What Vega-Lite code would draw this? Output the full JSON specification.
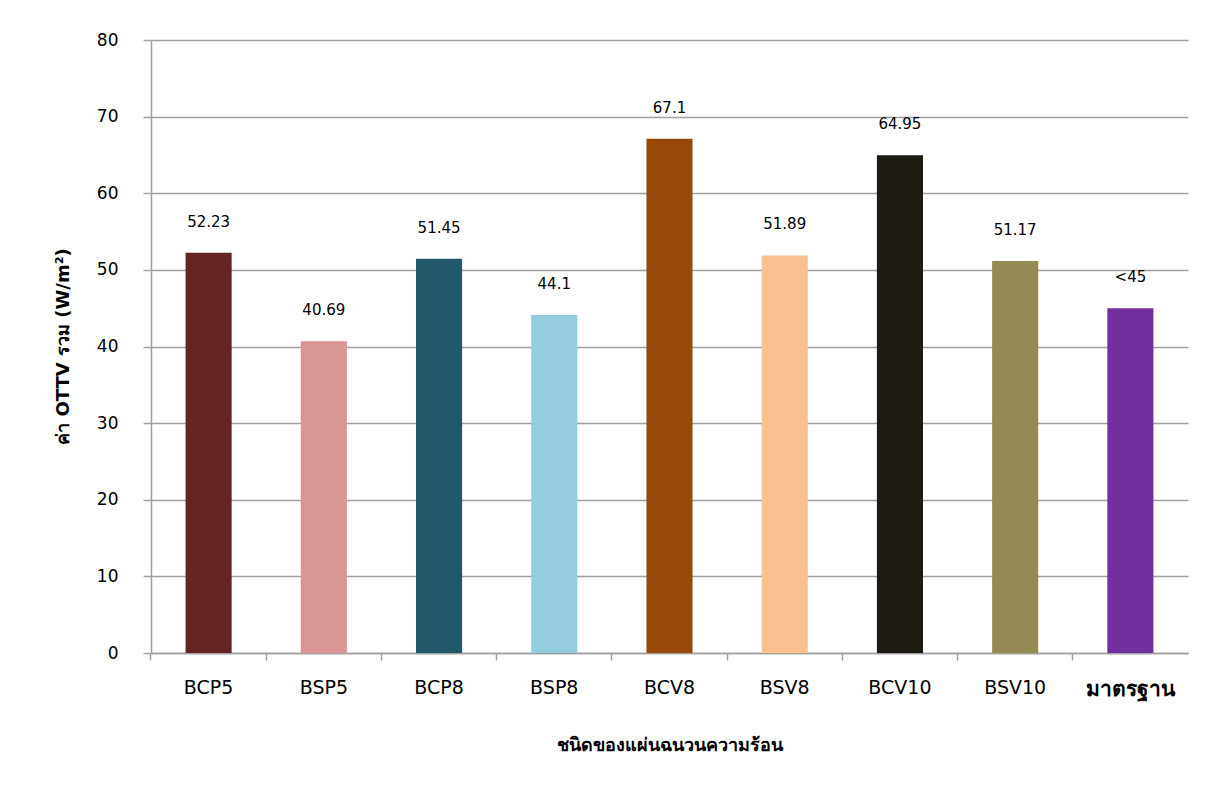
{
  "$schema": "https://vega.github.io/schema/vega-lite/v6.json",
  "autosize": "none",
  "width": 1037,
  "height": 613,
  "padding": {"left": 151, "top": 40, "right": 25, "bottom": 140},
  "background": "white",
  "data": {
    "values": [
      {"type": "BCP5", "ottv": 52.23, "label": "52.23"},
      {"type": "BSP5", "ottv": 40.69, "label": "40.69"},
      {"type": "BCP8", "ottv": 51.45, "label": "51.45"},
      {"type": "BSP8", "ottv": 44.1, "label": "44.1"},
      {"type": "BCV8", "ottv": 67.1, "label": "67.1"},
      {"type": "BSV8", "ottv": 51.89, "label": "51.89"},
      {"type": "BCV10", "ottv": 64.95, "label": "64.95"},
      {"type": "BSV10", "ottv": 51.17, "label": "51.17"},
      {"type": "มาตรฐาน", "ottv": 45, "label": "<45"}
    ]
  },
  "encoding": {
    "x": {
      "field": "type",
      "type": "nominal",
      "sort": null,
      "scale": {"paddingInner": 0.6, "paddingOuter": 0.3},
      "axis": {
        "title": "ชนิดของแผ่นฉนวนความร้อน",
        "labelAngle": 0,
        "bandPosition": -0.75,
        "tickSize": 7,
        "labelPadding": 18,
        "labelFontSize": {"expr": "datum.value == 'มาตรฐาน' ? 21 : 19"},
        "labelFontWeight": {"expr": "datum.value == 'มาตรฐาน' ? 'bold' : 'normal'"},
        "titleFontSize": 18,
        "titleFontWeight": "bold",
        "titleY": 92,
        "titleBaseline": "middle"
      }
    },
    "y": {
      "field": "ottv",
      "type": "quantitative",
      "scale": {"domain": [0, 80], "nice": false},
      "axis": {
        "title": "ค่า OTTV รวม (W/m²)",
        "values": [0, 10, 20, 30, 40, 50, 60, 70, 80],
        "tickSize": 8,
        "labelPadding": 25,
        "labelFontSize": 17,
        "titleFontSize": 18,
        "titleFontWeight": "bold",
        "titleX": -88,
        "titleY": 306,
        "titleBaseline": "middle",
        "grid": true
      }
    }
  },
  "layer": [
    {
      "mark": {"type": "bar"},
      "encoding": {
        "color": {
          "field": "type",
          "type": "nominal",
          "sort": null,
          "legend": null,
          "scale": {
            "domain": ["BCP5", "BSP5", "BCP8", "BSP8", "BCV8", "BSV8", "BCV10", "BSV10", "มาตรฐาน"],
            "range": ["#632523", "#D99694", "#215968", "#93CDDD", "#984807", "#FAC090", "#1D1B11", "#948A54", "#7030A0"]
          }
        }
      }
    },
    {
      "mark": {"type": "text", "dy": -31, "baseline": "middle", "fontSize": 15, "color": "#000000"},
      "encoding": {"text": {"field": "label"}}
    }
  ],
  "config": {
    "font": "DejaVu Sans",
    "view": {"stroke": null},
    "axis": {
      "domainColor": "#A0A0A0",
      "domainWidth": 1.5,
      "tickColor": "#A0A0A0",
      "tickWidth": 1.5,
      "gridColor": "#A0A0A0",
      "gridWidth": 1.5,
      "labelColor": "#000000",
      "titleColor": "#000000"
    }
  }
}
